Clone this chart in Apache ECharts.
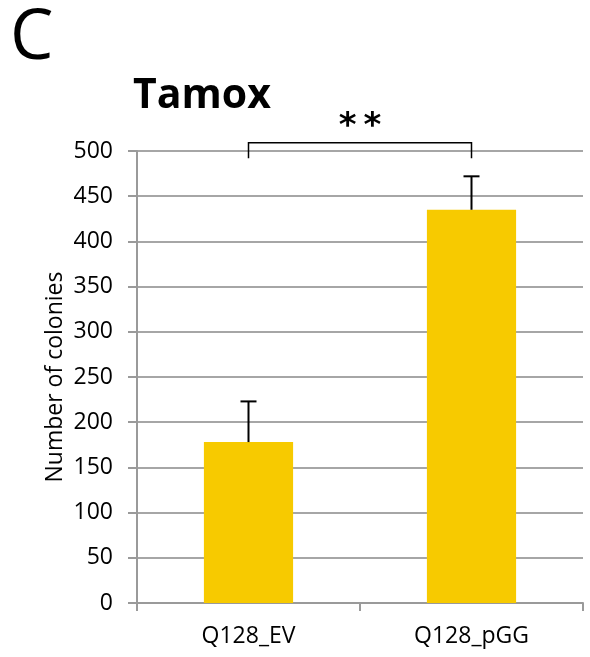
<!DOCTYPE html>
<html>
<head>
<meta charset="UTF-8">
<title>Tamox</title>
<script src="https://cdn.jsdelivr.net/npm/echarts@6/dist/echarts.min.js"></script>
</head>
<body style="margin:0;background:#fff;">
<div id="chart" style="width:590px;height:657px;"></div>
<script>
var categories = ['Q128_EV', 'Q128_pGG'];
var colonies = [178, 435];
var errors = [45, 37];
var bracketLevel = 509;   // top of the significance bracket
var bracketDrop = 492;    // ends of the bracket
var sigLabel = '*\u2009*';

var chart = echarts.init(document.getElementById('chart'));
var font = '"Open Sans", "Noto Sans", sans-serif';

var option = {
  animation: false,
  grid: { left: 137, right: 7, top: 151, bottom: 54 },
  graphic: [
    { type: 'text', left: 10, top: 5, style: { text: 'C', font: '69px ' + font, fill: '#000' } },
    { type: 'text', left: 133, top: 76, style: { text: 'Tamox', font: 'bold 41px ' + font, fill: '#000' } }
  ],
  xAxis: {
    type: 'category',
    data: categories,
    axisLine: { lineStyle: { color: '#9a9a9a', width: 2 } },
    axisTick: { show: true, length: 8, inside: false, lineStyle: { color: '#9a9a9a', width: 2 } },
    axisLabel: { color: '#000', fontSize: 23, fontFamily: font, margin: 22 }
  },
  yAxis: {
    type: 'value',
    min: 0, max: 500, interval: 50,
    name: 'Number of colonies',
    nameLocation: 'middle',
    nameGap: 70,
    nameMoveOverlap: false,
    nameTextStyle: { color: '#000', fontSize: 23, fontFamily: font },
    axisLine: { show: true, lineStyle: { color: '#9a9a9a', width: 2 } },
    axisTick: { show: true, length: 9, lineStyle: { color: '#9a9a9a', width: 2 } },
    axisLabel: { color: '#000', fontSize: 23, fontFamily: font, margin: 24 },
    splitLine: { lineStyle: { color: '#a6a6a6', width: 2 } }
  },
  series: [
    {
      type: 'bar',
      data: colonies,
      barWidth: '40%',
      itemStyle: { color: '#F7CA00' },
      z: 2
    },
    {
      type: 'custom',
      z: 3,
      data: colonies.map(function (v, i) { return [i, v, v + errors[i]]; }),
      renderItem: function (params, api) {
        var base = api.coord([api.value(0), api.value(1)]);
        var top = api.coord([api.value(0), api.value(2)]);
        var hw = 8;
        return {
          type: 'group',
          children: [
            { type: 'line', shape: { x1: base[0], y1: base[1], x2: top[0], y2: top[1] }, style: { stroke: '#000', lineWidth: 2 } },
            { type: 'line', shape: { x1: top[0] - hw, y1: top[1], x2: top[0] + hw, y2: top[1] }, style: { stroke: '#000', lineWidth: 2 } }
          ]
        };
      }
    },
    {
      type: 'custom',
      z: 4,
      clip: false,
      data: [[0, 1, bracketLevel, bracketDrop]],
      renderItem: function (params, api) {
        var a = api.coord([api.value(0), api.value(2)]);
        var b = api.coord([api.value(1), api.value(2)]);
        var d = api.coord([api.value(0), api.value(3)]);
        return {
          type: 'group',
          children: [
            { type: 'polyline', shape: { points: [[a[0], d[1]], [a[0], a[1]], [b[0], b[1]], [b[0], d[1]]] }, style: { stroke: '#000', lineWidth: 1.5, fill: null } },
            { type: 'text', x: (a[0] + b[0]) / 2, y: a[1] + 1, style: { text: sigLabel, font: 'bold 34px "DejaVu Sans", sans-serif', fill: '#000', align: 'center', verticalAlign: 'bottom' } }
          ]
        };
      }
    }
  ]
};
chart.setOption(option);
</script>
</body>
</html>
